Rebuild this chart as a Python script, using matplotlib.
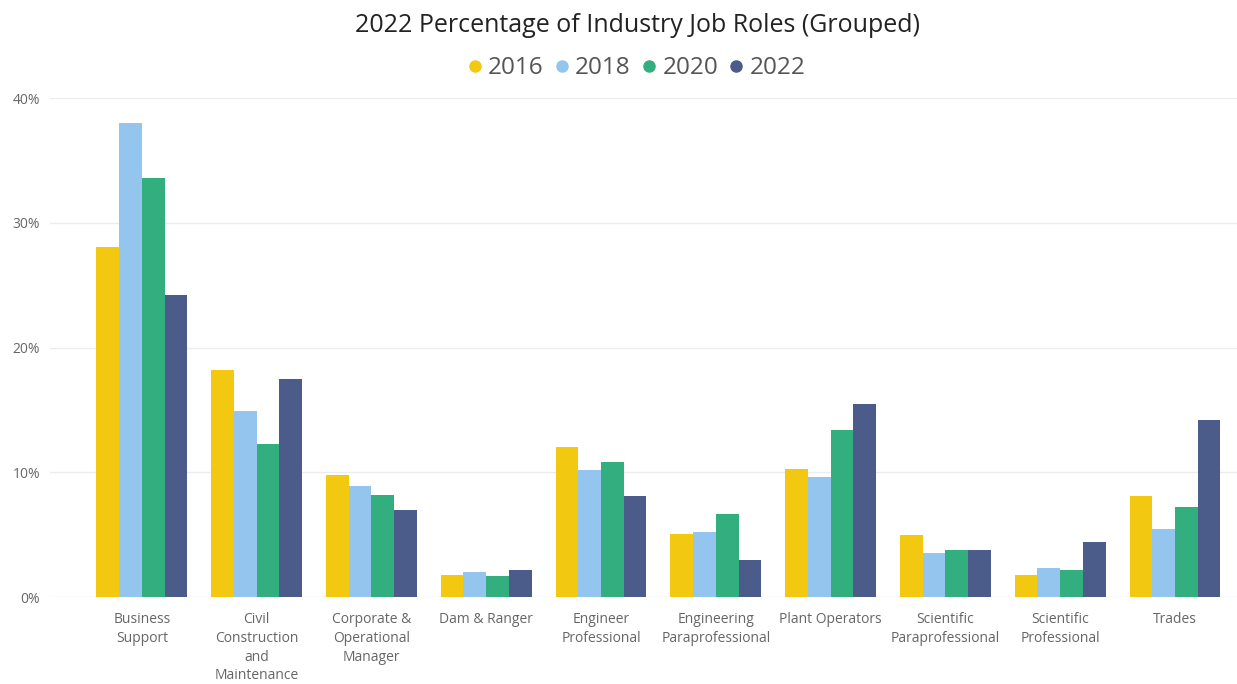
import numpy as np
from matplotlib import pyplot as plt
from matplotlib.lines import Line2D

plt.rcParams["font.family"] = ["Open Sans", "DejaVu Sans"]

# Data (percent)
categories = ["Business\nSupport", "Civil\nConstruction\nand\nMaintenance",
	"Corporate &\nOperational\nManager", "Dam & Ranger", "Engineer\nProfessional",
	"Engineering\nParaprofessional", "Plant Operators", "Scientific\nParaprofessional",
	"Scientific\nProfessional", "Trades"]
years = ["2016", "2018", "2020", "2022"]
y2016 = [28.1, 18.2, 9.8, 1.8, 12.0, 5.1, 10.3, 5.0, 1.8, 8.1]
y2018 = [38.0, 14.9, 8.9, 2.0, 10.2, 5.2, 9.6, 3.5, 2.3, 5.5]
y2020 = [33.6, 12.3, 8.2, 1.7, 10.8, 6.7, 13.4, 3.8, 2.2, 7.2]
y2022 = [24.2, 17.5, 7.0, 2.2, 8.1, 3.0, 15.5, 3.8, 4.4, 14.2]
yTicks = [0, 10, 20, 30, 40]

colList = ["#F2C811", "#94C5EE", "#33AE7E", "#4B5B8A"]

fig = plt.figure(figsize=(12.37, 6.84), dpi=100)
ax = fig.add_axes([0.0404, 0.127, 0.9596, 0.7295])

x = np.arange(len(categories))
w = 0.198
for i, vals in enumerate([y2016, y2018, y2020, y2022]):
	ax.bar(x + (i - 1.5) * w, vals, width=w, color=colList[i], zorder=2)

ax.set_xlim(-0.8, 9.54)
ax.set_ylim(0, 40)
ax.set_yticks(yTicks)
ax.set_yticklabels(["%d%%" % t for t in yTicks])
ax.yaxis.grid(True, color="#ececec", linewidth=1, zorder=0)
ax.set_xticks(x)
ax.set_xticklabels(categories, linespacing=1.33)
for s in ax.spines.values():
	s.set_visible(False)
ax.tick_params(axis="both", length=0, labelsize=10, labelcolor="#666666")
ax.tick_params(axis="y", pad=7)
ax.tick_params(axis="x", pad=11)

fig.text(0.515, 0.962, "2022 Percentage of Industry Job Roles (Grouped)",
	ha="center", va="center", fontsize=18, color="#222222")

handles = [Line2D([], [], marker="o", linestyle="", markersize=8,
	color=c) for c in colList]
fig.legend(handles, years, loc="center", bbox_to_anchor=(0.515, 0.9),
	ncol=4, frameon=False, fontsize=17.5, handlelength=0.5,
	handletextpad=0.3, columnspacing=0.5, labelcolor="#555555")

plt.savefig("out.png", dpi=100)
